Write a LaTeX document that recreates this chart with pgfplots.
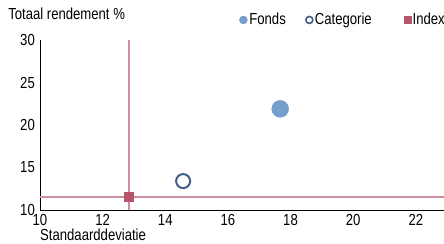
\documentclass[border=0pt]{standalone}
\usepackage{pgfplots}
\pgfplotsset{compat=1.18}
\usepackage{fontspec}
\setmainfont{Liberation Sans}[FakeStretch=0.82]
\definecolor{fonds}{HTML}{759FCC}
\definecolor{catcol}{HTML}{3F5F8A}
\definecolor{idxcol}{HTML}{B5566F}
\definecolor{linecol}{HTML}{CC8FA2}
\begin{document}
\begin{tikzpicture}
\useasboundingbox (-40bp,-34bp) rectangle (404bp,210bp);
\begin{axis}[
  at={(0,0)}, anchor=south west,
  scale only axis, width=404bp, height=170bp,
  xmin=10, xmax=22.9, ymin=10, ymax=30,
  axis lines*=left,
  axis line style={black, line width=1bp},
  xtick={10,12,...,22}, ytick={10,15,20,25,30},
  major tick length=0pt,
  font=\fontsize{16bp}{18bp}\selectfont,
  tick label style={font=\fontsize{16bp}{18bp}\selectfont},
  /pgf/number format/assume math mode=true,
  xticklabel style={yshift=-2bp, inner sep=2bp},
  yticklabel style={xshift=-3bp, inner sep=2bp},
  title={Totaal rendement \%},
  title style={at={(axis description cs:-0.079,1.118)}, anchor=west, inner sep=0pt},
  xlabel={Standaarddeviatie},
  xlabel style={at={(axis description cs:0,-0.147)}, anchor=west, inner sep=0pt},
  clip=false,
  legend style={at={(axis description cs:1.0,1.118)}, anchor=east, xshift=3bp, draw=none, fill=none,
    legend columns=3, inner sep=0pt,
    /tikz/column 2/.style={column sep=18bp},
    /tikz/column 4/.style={column sep=30bp},
    font=\fontsize{16bp}{18bp}\selectfont},
  legend cell align=left,
]
\addplot[linecol, line width=1.2bp, forget plot] coordinates {(12.84,10) (12.84,30)};
\addplot[linecol, line width=1.2bp, forget plot] coordinates {(10,11.53) (22.9,11.53)};
\addplot[only marks, mark=*, mark size=8.5bp, draw=fonds, fill=fonds, forget plot] coordinates {(17.67,21.9)};
\addplot[only marks, mark=o, mark size=7bp, line width=2bp, draw=catcol, forget plot] coordinates {(14.57,13.4)};
\addplot[only marks, mark=square*, mark size=4.5bp, draw=idxcol, fill=idxcol, forget plot] coordinates {(12.84,11.53)};
\addlegendimage{only marks, mark=*, mark size=4bp, draw=fonds, fill=fonds}
\addlegendimage{only marks, mark=o, mark size=3.5bp, line width=1.6bp, draw=catcol}
\addlegendimage{only marks, mark=square*, mark size=3.5bp, draw=idxcol, fill=idxcol}
\legend{Fonds,Categorie,Index}
\end{axis}
\end{tikzpicture}
\end{document}
